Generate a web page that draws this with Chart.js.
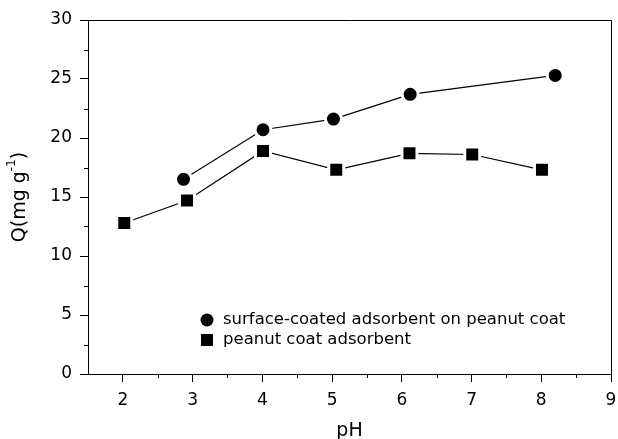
<!DOCTYPE html>
<html>
<head>
<meta charset="utf-8">
<script src="https://cdn.jsdelivr.net/npm/chart.js@4"></script>
<style>
  body { margin: 0; background: #fff; }
  #wrap { width: 618px; height: 439px; }
</style>
</head>
<body>
<div id="wrap"><canvas id="chart" width="618" height="439"></canvas></div>
<script>
// data
const coatedPH = [2.87, 4.01, 5.02, 6.12, 8.2];
const coatedQ = [16.5, 20.7, 21.6, 23.7, 25.3];
const plainPH = [2.02, 2.92, 4.01, 5.06, 6.11, 7.01, 8.01];
const plainQ = [12.8, 14.7, 18.9, 17.3, 18.7, 18.6, 17.3];
const xTicks = [2, 3, 4, 5, 6, 7, 8, 9];
const yTicks = [0, 5, 10, 15, 20, 25, 30];
const xMinor = [2.5, 3.5, 4.5, 5.5, 6.5, 7.5, 8.5];
const yMinor = [2.5, 7.5, 12.5, 17.5, 22.5, 27.5];
const seriesNames = ['surface-coated adsorbent on peanut coat', 'peanut coat adsorbent'];

const FONT = '"DejaVu Sans", sans-serif';

function pairs(xs, ys) {
  return xs.map((x, i) => ({ x: x, y: ys[i] }));
}

// box, minor ticks, x labels, axis titles and legend
const decor = {
  id: 'decor',
  afterDraw(chart) {
    const ctx = chart.ctx;
    const a = chart.chartArea;
    const xs = chart.scales.x, ys = chart.scales.y;
    ctx.save();
    ctx.strokeStyle = '#000';
    ctx.lineWidth = 1;
    ctx.beginPath();
    ctx.moveTo(a.left, a.top + 0.5);
    ctx.lineTo(a.right + 0.5, a.top + 0.5);
    ctx.lineTo(a.right + 0.5, a.bottom);
    ctx.stroke();

    ctx.beginPath();
    xMinor.forEach(v => {
      const px = Math.round(xs.getPixelForValue(v)) + 0.5;
      ctx.moveTo(px, a.bottom);
      ctx.lineTo(px, a.bottom + 4);
    });
    yMinor.forEach(v => {
      const py = Math.round(ys.getPixelForValue(v)) + 0.5;
      ctx.moveTo(a.left, py);
      ctx.lineTo(a.left - 4, py);
    });
    ctx.stroke();

    ctx.fillStyle = '#000';
    // x tick labels (drawn here so the last one adds no right padding)
    ctx.font = '17px ' + FONT;
    ctx.textAlign = 'center';
    ctx.textBaseline = 'alphabetic';
    xTicks.forEach(v => {
      ctx.fillText(String(v), xs.getPixelForValue(v), 405);
    });

    // x title
    ctx.font = '19px ' + FONT;
    ctx.textBaseline = 'middle';
    ctx.fillText('pH', (a.left + a.right) / 2, 431);

    // y title with superscript
    ctx.save();
    ctx.translate(20, (a.top + a.bottom) / 2);
    ctx.rotate(-Math.PI / 2);
    const main = 'Q(mg g';
    const sup = '-1';
    const end = ')';
    ctx.font = '19px ' + FONT;
    const w1 = ctx.measureText(main).width;
    const w3 = ctx.measureText(end).width;
    ctx.font = '12px ' + FONT;
    const w2 = ctx.measureText(sup).width;
    let x0 = -(w1 + w2 + w3) / 2;
    ctx.textAlign = 'left';
    ctx.font = '19px ' + FONT;
    ctx.fillText(main, x0, 0);
    ctx.font = '12px ' + FONT;
    ctx.fillText(sup, x0 + w1, -8);
    ctx.font = '19px ' + FONT;
    ctx.fillText(end, x0 + w1 + w2, 0);
    ctx.restore();

    // legend
    const lx = 207, ly = [320, 340];
    ctx.beginPath();
    ctx.arc(lx, ly[0], 6.5, 0, Math.PI * 2);
    ctx.fill();
    ctx.fillRect(lx - 6, ly[1] - 6, 12, 12);
    ctx.font = '16.5px ' + FONT;
    ctx.textAlign = 'left';
    ctx.fillText(seriesNames[0], 223, ly[0]);
    ctx.fillText(seriesNames[1], 223, ly[1]);
    ctx.restore();
  }
};

new Chart(document.getElementById('chart'), {
  type: 'scatter',
  data: {
    datasets: [
      {
        label: seriesNames[0],
        data: pairs(coatedPH, coatedQ),
        showLine: true,
        borderColor: '#000',
        borderWidth: 1.2,
        pointStyle: 'circle',
        pointRadius: 8,
        pointBackgroundColor: '#000',
        pointBorderColor: '#fff',
        pointBorderWidth: 3
      },
      {
        label: seriesNames[1],
        data: pairs(plainPH, plainQ),
        showLine: true,
        borderColor: '#000',
        borderWidth: 1.2,
        pointStyle: 'rect',
        pointRadius: 10.6,
        pointBackgroundColor: '#000',
        pointBorderColor: '#fff',
        pointBorderWidth: 3
      }
    ]
  },
  options: {
    responsive: false,
    animation: false,
    events: [],
    layout: { autoPadding: false, padding: { top: 20, right: 7, left: 0, bottom: 0 } },
    plugins: { legend: { display: false }, tooltip: { enabled: false } },
    scales: {
      x: {
        type: 'linear',
        min: 1.5,
        max: 9,
        afterBuildTicks: s => { s.ticks = xTicks.map(v => ({ value: v })); },
        afterFit: s => { s.height = 65; },
        border: { color: '#000', width: 1 },
        grid: { drawOnChartArea: false, tickLength: 8, color: '#000' },
        ticks: { display: false }
      },
      y: {
        type: 'linear',
        min: 0,
        max: 30,
        afterBuildTicks: s => { s.ticks = yTicks.map(v => ({ value: v })); },
        afterFit: s => { s.width = 88; },
        border: { color: '#000', width: 1 },
        grid: { drawOnChartArea: false, tickLength: 8, color: '#000' },
        ticks: { color: '#000', padding: 8, font: { family: FONT, size: 17 } }
      }
    }
  },
  plugins: [decor]
});
</script>
</body>
</html>
